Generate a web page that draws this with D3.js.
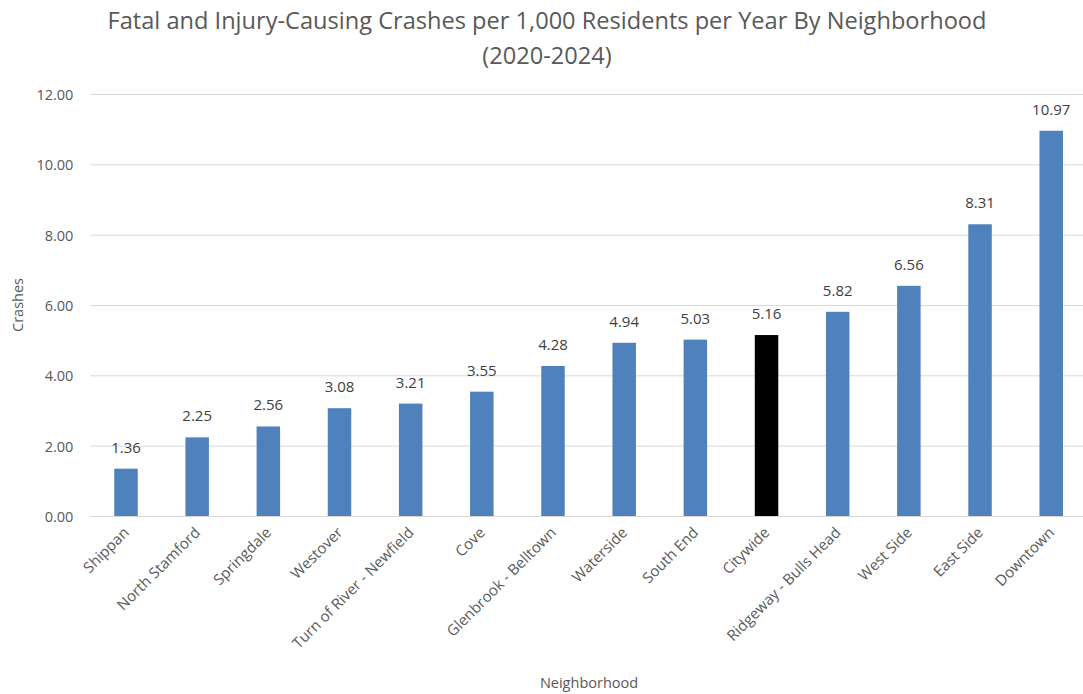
<!DOCTYPE html>
<html><head><meta charset="utf-8">
<script src="https://cdn.jsdelivr.net/npm/d3@7"></script>
<style>body{margin:0;background:#fff;} text{font-family:"Open Sans","Liberation Sans",sans-serif;}</style>
</head><body>
<svg id="c" width="1083" height="694"></svg>
<script>
const categories = ["Shippan","North Stamford","Springdale","Westover","Turn of River - Newfield","Cove","Glenbrook - Belltown","Waterside","South End","Citywide","Ridgeway - Bulls Head","West Side","East Side","Downtown"];
const values = [1.36,2.25,2.56,3.08,3.21,3.55,4.28,4.94,5.03,5.16,5.82,6.56,8.31,10.97];
const highlight = ["Citywide"];
const yTicks = [0,2,4,6,8,10,12];
const titleLines = ["Fatal and Injury-Causing Crashes per 1,000 Residents per Year By Neighborhood","(2020-2024)"];

const svg = d3.select("#c");
const pLeft = 90.4, pRight = 1086.8, pTop = 94.5, pBottom = 516.5;
const x = d3.scaleBand().domain(categories).range([pLeft,pRight]).paddingInner(0.67).paddingOuter(0.335);
const y = d3.scaleLinear().domain([0,12]).range([pBottom,pTop]);

// gridlines
svg.append("g").selectAll("line").data(yTicks).join("line")
  .attr("x1",pLeft).attr("x2",pRight).attr("y1",d=>y(d)).attr("y2",d=>y(d))
  .attr("stroke","#d9d9d9").attr("stroke-width",1);

// y axis labels
const yAxis = d3.axisLeft(y).tickValues(yTicks).tickFormat(d3.format(".2f")).tickSize(0).tickPadding(17);
const ga = svg.append("g").attr("transform",`translate(${pLeft},0)`).call(yAxis);
ga.select(".domain").remove();
ga.selectAll("text").attr("fill","#595959").style("font-size","14.5px").attr("dy","0.35em");

// bars
svg.append("g").selectAll("rect").data(categories).join("rect")
  .attr("x",d=>x(d)).attr("width",x.bandwidth())
  .attr("y",(d,i)=>y(values[i])).attr("height",(d,i)=>pBottom-y(values[i]))
  .attr("fill",d=>highlight.includes(d)?"#000000":"#4f81bd");

// value labels
svg.append("g").selectAll("text").data(categories).join("text")
  .attr("x",d=>x(d)+x.bandwidth()/2).attr("y",(d,i)=>y(values[i])-16)
  .attr("text-anchor","middle").attr("fill","#404040").style("font-size","15px")
  .text((d,i)=>values[i].toFixed(2));

// x labels
const xAxis = d3.axisBottom(x).tickSize(0).tickPadding(0);
const gx = svg.append("g").attr("transform",`translate(0,${pBottom})`).call(xAxis);
gx.select(".domain").remove();
gx.selectAll("text").attr("fill","#595959").style("font-size","15px")
  .attr("text-anchor","end").attr("dy",null).attr("y",0)
  .attr("transform","translate(4,17) rotate(-45)");

// baseline
svg.append("line").attr("x1",pLeft).attr("x2",pRight).attr("y1",pBottom).attr("y2",pBottom).attr("stroke","#d9d9d9");

// titles
svg.append("g").selectAll("text").data(titleLines).join("text")
  .attr("x",547).attr("y",(d,i)=>29+i*35).attr("text-anchor","middle")
  .attr("fill","#595959").style("font-size","23.6px").text(d=>d);

svg.append("text").attr("transform","translate(23,305) rotate(-90)").attr("text-anchor","middle")
  .attr("fill","#595959").style("font-size","14.5px").text("Crashes");
svg.append("text").attr("x",589).attr("y",688).attr("text-anchor","middle")
  .attr("fill","#595959").style("font-size","14.5px").text("Neighborhood");
</script>
</body></html>
